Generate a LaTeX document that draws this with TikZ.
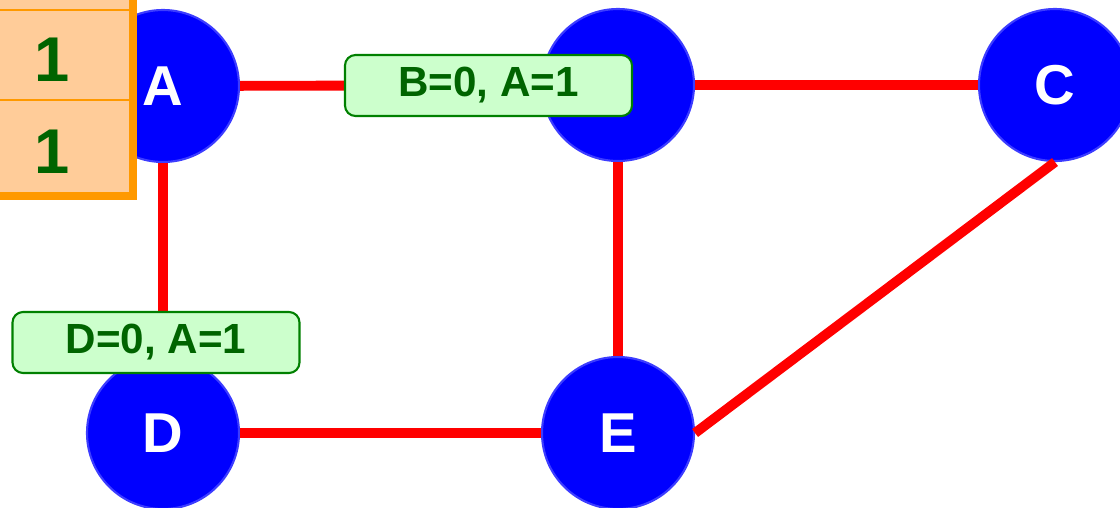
\documentclass[tikz,border=0pt]{standalone}
\usepackage{fontspec}
\setmainfont{Liberation Sans}
\definecolor{nodeblue}{RGB}{0,0,255}
\definecolor{rimblue}{RGB}{60,60,255}
\definecolor{msgfill}{RGB}{204,255,204}
\definecolor{msgdraw}{RGB}{0,128,0}
\definecolor{msgtext}{RGB}{0,100,0}
\definecolor{tabfill}{RGB}{255,204,153}
\definecolor{taborange}{RGB}{255,153,0}
\begin{document}
\begin{tikzpicture}[
    router/.style={
        circle,
        minimum size=1.52cm,
        inner sep=0pt,
        draw=rimblue,
        line width=0.6pt,
        fill=nodeblue,
        text=white,
        font=\fontsize{16}{19}\selectfont\bfseries
    },
    link/.style={red, line width=2.8pt},
    update/.style={
        rectangle,
        rounded corners=3pt,
        minimum width=2.87cm,
        minimum height=0.61cm,
        inner sep=0pt,
        draw=msgdraw,
        line width=0.6pt,
        fill=msgfill,
        text=msgtext,
        font=\fontsize{12}{14}\selectfont\bfseries
    },
    cell/.style={
        rectangle,
        minimum width=1.56cm,
        minimum height=0.9cm,
        inner sep=0pt,
        text height=0.53cm,
        text depth=0pt,
        draw=taborange,
        line width=0.8pt,
        fill=tabfill,
        text=msgtext,
        font=\fontsize{18}{21}\selectfont\bfseries
    }
]
\useasboundingbox (0,0) rectangle (11.2,5.07);

% Routers
\node[router] (A) at (1.63,4.21) {A};
\node[router] (B) at (6.18,4.22) {};
\node[router] (C) at (10.55,4.22) {C};
\node[router] (D) at (1.63,0.74) {D};
\node[router] (E) at (6.18,0.74) {E};

% Links
\draw[link] (A) -- (B);
\draw[link] (B) -- (C);
\draw[link] (A) -- (D);
\draw[link] (B) -- (E);
\draw[link] (D) -- (E);
\draw[link] (C.south) -- (E.east);

% Distance vector updates
\node[update] (ubtoa) at (4.885,4.215) {B=0, A=1};
\node[update] (udtoa) at (1.56,1.645) {D=0, A=1};

% Routing table of A
\node[cell] (row0) at (0.52,5.42) {};
\node[cell] (row1) at (0.52,4.52) {1};
\node[cell, minimum height=0.93cm] (row2) at (0.52,3.605) {1};
\draw[taborange, line width=2.2pt] (1.33,5.2) -- (1.33,3.105) -- (-0.3,3.105);

\end{tikzpicture}
\end{document}
